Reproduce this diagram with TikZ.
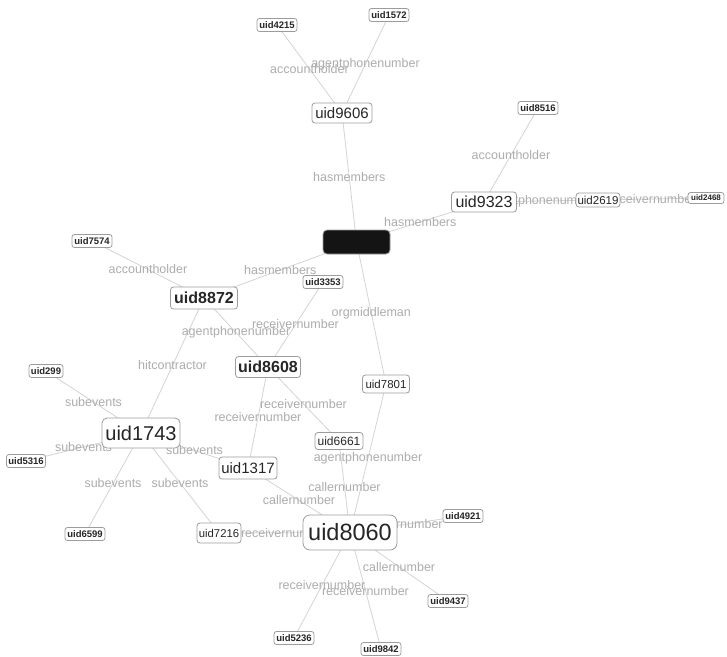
\documentclass[tikz,border=0pt]{standalone}
\usepackage{fontspec}
\setmainfont{Liberation Sans}
\pgfdeclarelayer{bg}
\pgfdeclarelayer{edges}
\pgfdeclarelayer{labels}
\pgfsetlayers{bg,edges,labels,main}
\definecolor{edgec}{HTML}{D4D4D4}
\definecolor{lblc}{HTML}{ADADAD}
\definecolor{bordc}{HTML}{9C9C9C}
\definecolor{txtc}{HTML}{262626}
\definecolor{blkc}{HTML}{141414}
\newcommand{\fsz}[1]{\fontsize{#1}{#1}\selectfont}
\tikzset{
  box/.style={draw=bordc, fill=white, rounded corners=3pt, line width=0.8pt, text=txtc, inner sep=0pt},
  sm/.style={box, font=\fsz{9.5}\bfseries, minimum width=40pt, minimum height=13pt, rounded corners=2.5pt},
  bd/.style={box, font=\fsz{16}\bfseries, minimum width=66pt, minimum height=22pt},
  blkbox/.style={draw=bordc, fill=blkc, rounded corners=4pt, line width=0.8pt, minimum width=67pt, minimum height=24pt, inner sep=0pt},
  edge/.style={draw=edgec, line width=0.8pt},
  lbl/.style={text=lblc, font=\fsz{12.5}, inner sep=0pt}
}
\begin{document}
\begin{tikzpicture}[x=1pt, y=-1pt]
\begin{pgfonlayer}{bg}
\fill[white] (0,0) rectangle (727,656);
\end{pgfonlayer}
\useasboundingbox (0,0) rectangle (727,656);

\node[sm] (n4215) at (277,25) {uid4215};
\node[sm] (n1572) at (389,15) {uid1572};
\node[box, font=\fsz{15}, minimum width=60pt, minimum height=20pt] (n9606) at (342,113) {uid9606};
\node[sm] (n8516) at (538,108) {uid8516};
\node[box, font=\fsz{16}, minimum width=65pt, minimum height=20pt] (n9323) at (484,202) {uid9323};
\node[box, font=\fsz{11.5}, minimum width=44pt, minimum height=14pt] (n2619) at (598,200) {uid2619};
\node[sm, font=\fsz{8}\bfseries, minimum width=36pt, minimum height=11pt] (n2468) at (706,198) {uid2468};
\node[blkbox] (blk) at (356.5,242) {};
\node[sm] (n7574) at (92,241) {uid7574};
\node[bd, minimum width=67pt] (n8872) at (204,298) {uid8872};
\node[sm] (n3353) at (323,282) {uid3353};
\node[bd, minimum width=65pt, minimum height=21pt] (n8608) at (268,367) {uid8608};
\node[box, font=\fsz{11.5}, minimum width=47pt, minimum height=18pt] (n7801) at (386,384) {uid7801};
\node[sm, minimum width=34pt] (n299) at (46,371) {uid299};
\node[box, font=\fsz{20}, minimum width=78pt, minimum height=30pt, rounded corners=5pt] (n1743) at (141,433) {uid1743};
\node[sm, minimum width=39pt] (n5316) at (26,461) {uid5316};
\node[box, font=\fsz{12}, minimum width=48pt, minimum height=17pt] (n6661) at (339,441) {uid6661};
\node[box, font=\fsz{15}, minimum width=58pt, minimum height=22pt] (n1317) at (248,468) {uid1317};
\node[sm] (n6599) at (85,534) {uid6599};
\node[box, font=\fsz{11.3}, minimum width=44pt, minimum height=20pt] (n7216) at (219,533) {uid7216};
\node[box, font=\fsz{23.5}, minimum width=94pt, minimum height=35pt, rounded corners=7pt] (n8060) at (350,532.5) {uid8060};
\node[sm] (n4921) at (463,516) {uid4921};
\node[sm] (n9437) at (448,601) {uid9437};
\node[sm] (n5236) at (294,638) {uid5236};
\node[sm] (n9842) at (381,649) {uid9842};

\def\edgelist{n9606/n4215/accountholder, n9606/n1572/agentphonenumber, n9606/blk/hasmembers,
 n9323/blk/hasmembers, n9323/n8516/accountholder, n9323/n2619/agentphonenumber, n2619/n2468/receivernumber,
 n8872/blk/hasmembers, n8872/n7574/accountholder, n8872/n8608/agentphonenumber, n8872/n1743/hitcontractor,
 n8608/n3353/receivernumber, blk/n7801/orgmiddleman, n8608/n6661/receivernumber, n8608/n1317/receivernumber,
 n1743/n299/subevents, n1743/n5316/subevents, n1743/n1317/subevents, n1743/n6599/subevents, n1743/n7216/subevents,
 n6661/n8060/callernumber, n7801/n8060/agentphonenumber, n1317/n8060/callernumber, n7216/n8060/receivernumber,
 n4921/n8060/callernumber, n9437/n8060/callernumber, n5236/n8060/receivernumber, n9842/n8060/receivernumber}

\begin{pgfonlayer}{edges}
\foreach \a/\b/\t in \edgelist { \draw[edge] (\a.center) -- (\b.center); }
\end{pgfonlayer}
\begin{pgfonlayer}{labels}
\foreach \a/\b/\t in \edgelist { \path (\a.center) -- (\b.center) node[lbl, midway] {\t}; }
\end{pgfonlayer}
\end{tikzpicture}
\end{document}
